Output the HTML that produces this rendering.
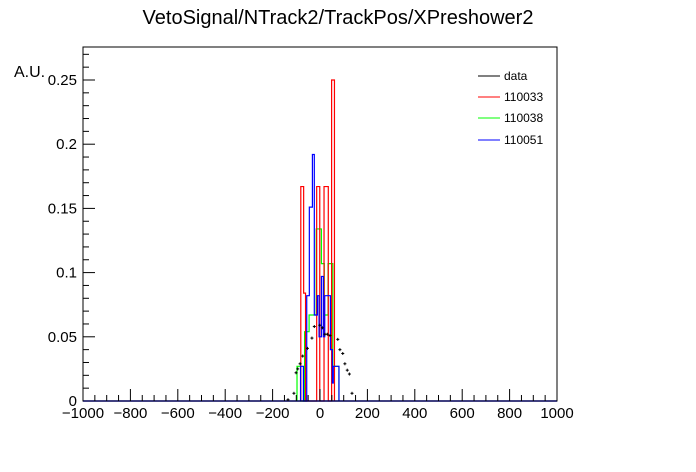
<!DOCTYPE html>
<html><head><meta charset="utf-8"><style>
body{margin:0;background:#fff;}
svg{display:block;font-family:"Liberation Sans",sans-serif;}
</style></head><body>
<svg id="c" width="696" height="472">
<text x="338" y="24" font-size="20" text-anchor="middle">VetoSignal/NTrack2/TrackPos/XPreshower2</text>
<text x="14" y="77" font-size="16">A.U.</text>
<g id="marks"></g>
<rect x="83" y="47" width="474" height="354" fill="none" stroke="#000" stroke-width="1"/>
<g id="axes"></g>
<g>
<line x1="478" y1="76" x2="500" y2="76" stroke="#000"/>
<text x="504" y="80" font-size="12">data</text>
<line x1="478" y1="97" x2="500" y2="97" stroke="#f00"/>
<text x="504" y="101" font-size="12">110033</text>
<line x1="478" y1="118" x2="500" y2="118" stroke="#0f0"/>
<text x="504" y="122" font-size="12">110038</text>
<line x1="478" y1="140" x2="500" y2="140" stroke="#00f"/>
<text x="504" y="144" font-size="12">110051</text>
</g>
</svg>
<script>
const xTicks=[-1000,-800,-600,-400,-200,0,200,400,600,800,1000];
const yTicks=[0,0.05,0.1,0.15,0.2,0.25];
const yTickLabels=["0","0.05","0.1","0.15","0.2","0.25"];
const redEdges=[-81,-69,-61,-14,-1,17,35,49,61];
const redVals=[0.167,0.084,0,0.167,0,0.167,0,0.25];
const greenEdges=[-97,-82,-65,-46,-16,6,18,34,54,66,80];
const greenVals=[0.027,0,0.054,0.067,0.134,0.107,0.067,0.107,0.027,0.027];
const blueEdges=[-82,-70,-56,-45,-32,-24,-11,-4,6,14,20,34,44,52,56,66,80];
const blueVals=[0.027,0,0.082,0.151,0.192,0.067,0.082,0.05,0.097,0.05,0.082,0.082,0.04,0.014,0.027,0.027];
const dataX=[-135,-110,-101,-94,-84,-73,-53,-34,-24,-1,10,21,31,42,75,84,96,105,115,124,135];
const dataY=[0.001,0.006,0.022,0.025,0.029,0.035,0.041,0.049,0.058,0.059,0.057,0.052,0.052,0.051,0.048,0.04,0.037,0.029,0.024,0.021,0.006];
const NS="http://www.w3.org/2000/svg";
const X=v=>320+v*0.237, Y=v=>401-v*1284;
const marks=document.getElementById('marks'), axes=document.getElementById('axes');
function mk(t,a,p){const e=document.createElementNS(NS,t);for(const k in a)e.setAttribute(k,a[k]);p.appendChild(e);return e;}
function hist(edges,vals,color,name){
  let d="M"+X(edges[0])+","+Y(0);
  for(let i=0;i<vals.length;i++){d+=" L"+X(edges[i])+","+Y(vals[i])+" L"+X(edges[i+1])+","+Y(vals[i]);}
  d+=" L"+X(edges[edges.length-1])+","+Y(0);
  const p=mk('path',{d:d,fill:'none',stroke:color,'stroke-width':1.2},marks);
  
  
}
hist(greenEdges,greenVals,'#0f0','histogram-110038');
hist(redEdges,redVals,'#f00','histogram-110033');
hist(blueEdges,blueVals,'#00f','histogram-110051');
const base=mk('line',{x1:83,y1:401,x2:557,y2:401,stroke:'#00f','stroke-width':1.5},marks);


for(let i=0;i<dataX.length;i++){
  const g=mk('g',{},marks);
  
  
  const x=X(dataX[i]),y=Y(dataY[i]);
  mk('line',{x1:x-1.5,y1:y,x2:x+1.5,y2:y,stroke:'#000','stroke-width':1},g);
  mk('line',{x1:x,y1:y-1.5,x2:x,y2:y+1.5,stroke:'#000','stroke-width':1},g);
}
for(let v=-1000;v<=1000;v+=50){
  const major=(v%200===0);
  const t=mk('line',{x1:X(v),y1:401,x2:X(v),y2:401-(major?12:6),stroke:'#000'},axes);
  
  
}
xTicks.forEach(v=>{
  const t=mk('text',{x:X(v),y:418,'font-size':15,'text-anchor':'middle'},axes);
  t.textContent=(v<0?'\u2212'+(-v):v);
  
  
});
for(let i=0;i<=27;i++){
  const v=i*0.01, major=(i%5===0);
  const t=mk('line',{x1:83,y1:Y(v),x2:83+(major?12:6),y2:Y(v),stroke:'#000'},axes);
  
  
}
yTicks.forEach((v,i)=>{
  const t=mk('text',{x:77,y:Y(v)+5,'font-size':15,'text-anchor':'end'},axes);
  t.textContent=yTickLabels[i];
  
  
});
</script>
</body></html>
